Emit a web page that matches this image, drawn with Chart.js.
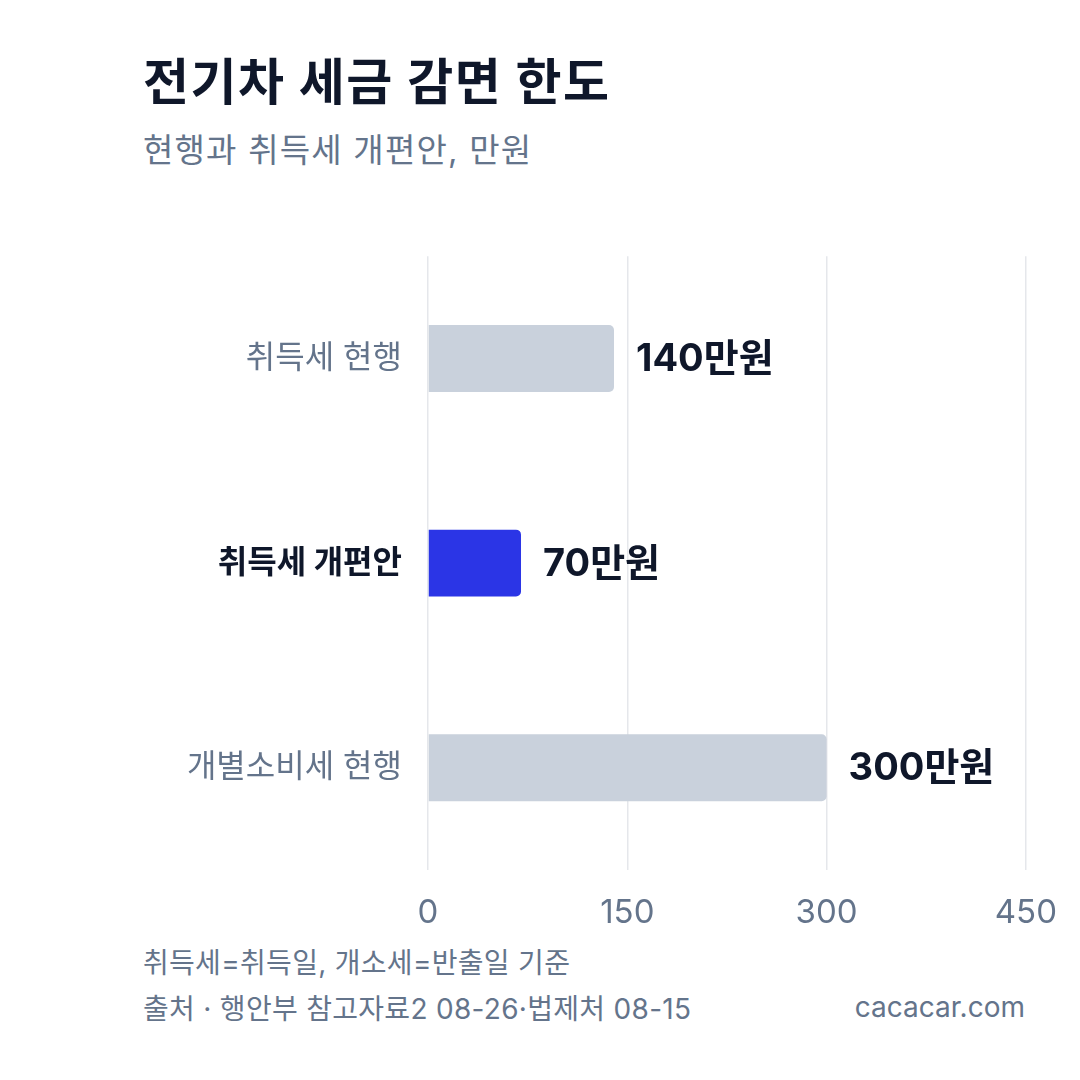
<!DOCTYPE html>
<html lang="ko">
<head>
<meta charset="utf-8">
<script src="https://cdn.jsdelivr.net/npm/chart.js@4"></script>
<style>
  html, body { margin:0; padding:0; background:#fff; }
  body { width:1080px; height:1080px; position:relative; overflow:hidden; font-family:'Inter','Noto Sans CJK KR',sans-serif; }
  .title { position:absolute; left:143px; top:42px; font-size:50px; font-weight:700; color:#0f172a; letter-spacing:1.5px; }
  .sub { position:absolute; left:143px; top:124px; font-size:33px; color:#64748b; letter-spacing:1.2px; }
  .chart { position:absolute; left:0; top:219px; width:1080px; height:714px; }
  .note { position:absolute; left:143px; font-size:28px; color:#64748b; letter-spacing:0.3px; }
  .brand { position:absolute; right:55px; top:990px; font-size:28px; color:#64748b; }
</style>
</head>
<body>
<div class="title">전기차 세금 감면 한도</div>
<div class="sub">현행과 취득세 개편안, 만원</div>
<div class="chart"><canvas id="c"></canvas></div>
<div class="note" style="top:941px">취득세=취득일, 개소세=반출일 기준</div>
<div class="note" style="top:987px">출처 · 행안부 참고자료2 08-26·법제처 08-15</div>
<div class="brand">cacacar.com</div>
<script>
// ── Data ─────────────────────────────────────────────────────
const categories = ['취득세 현행', '취득세 개편안', '개별소비세 현행'];
const values = [140, 70, 300];
const valueLabels = ['140만원', '70만원', '300만원'];
const xTicks = [0, 150, 300, 450];
const barColors = ['#c9d1dc', '#2b35e6', '#c9d1dc'];
const highlight = 1;

const FONT = "'Inter','Noto Sans CJK KR',sans-serif";

// value labels at bar ends
const endLabels = {
  id: 'endLabels',
  afterDatasetsDraw(chart) {
    const c = chart.ctx;
    const meta = chart.getDatasetMeta(0);
    c.save();
    c.font = `700 38px ${FONT}`;
    c.fillStyle = '#0f172a';
    c.textBaseline = 'middle';
    meta.data.forEach((bar, i) => c.fillText(valueLabels[i], bar.x + 22, bar.y + 1));
    c.restore();
  }
};

new Chart(document.getElementById('c'), {
  type: 'bar',
  data: {
    labels: categories,
    datasets: [{ data: values, backgroundColor: barColors, borderRadius: 5, borderSkipped: 'start', categoryPercentage: 1, barPercentage: 0.327 }]
  },
  options: {
    indexAxis: 'y',
    responsive: true, maintainAspectRatio: false, animation: false,
    layout: { padding: { top: 0, right: 54, left: 0, bottom: 0 } },
    plugins: { legend: { display: false }, tooltip: { enabled: false } },
    scales: {
      x: {
        min: 0, max: 450,
        afterBuildTicks: s => { s.ticks = xTicks.map(v => ({ value: v })); },
        afterFit: s => { s.height = 63; },
        border: { display: false },
        grid: { color: '#e5e7eb', lineWidth: 1.5, drawTicks: false },
        ticks: { padding: 23, color: '#64748b', font: { family: FONT, size: 33 } }
      },
      y: {
        afterFit: s => { s.width = 428; },
        border: { display: false },
        grid: { display: false },
        ticks: {
          padding: 18,
          color: ctx => ctx.index === highlight ? '#0f172a' : '#64748b',
          font: ctx => ({ family: FONT, size: 32, weight: ctx.index === highlight ? '700' : '400' })
        }
      }
    }
  },
  plugins: [endLabels]
});
</script>
</body>
</html>
